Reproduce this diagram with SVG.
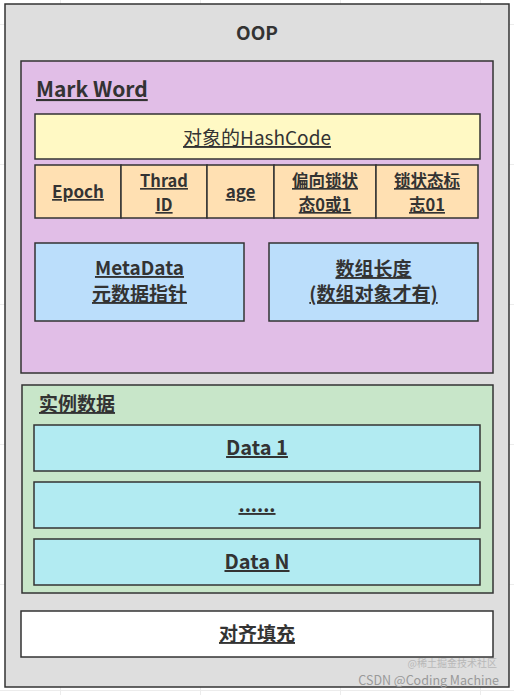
<svg xmlns="http://www.w3.org/2000/svg" width="514" height="695" viewBox="0 0 514 695">
<style>
  .box{stroke:#333;stroke-width:1.5}
  .t{font-family:"Microsoft YaHei","Noto Sans CJK SC","Noto Sans",sans-serif;fill:#333;text-anchor:middle;font-weight:bold}
  .u{text-decoration:underline}
  .b19{font-size:19px}
  .b20{font-size:20px}
  .b17{font-size:17px}
  .b16{font-size:16.5px}
  .grid{stroke:#ececec;stroke-width:1}
</style>
<rect width="514" height="695" fill="#fff"/>
<g id="grid">
  <path class="grid" d="M0 690.5H514M0 24.5H5M509 24.5H514M0 164.5H5M509 164.5H514M0 304.5H5M509 304.5H514M0 444.5H5M509 444.5H514M0 584.5H5M509 584.5H514M60.5 0V4M200.5 0V4M340.5 0V4M480.5 0V4M60.5 687V695M200.5 687V695M340.5 687V695M480.5 687V695"/>
</g>
<g id="oop">
  <rect class="box" x="5" y="4" width="504" height="683" fill="#dedede"/>
  <text class="t b19" x="257" y="40">OOP</text>
</g>
<g id="markword">
  <rect class="box" x="21" y="61" width="472" height="312" fill="#e1bee7"/>
  <text class="t u" x="36" y="97" style="text-anchor:start;font-size:21px">Mark Word</text>
</g>
<g id="hashcode">
  <rect class="box" x="35" y="114" width="445" height="45" fill="#fff9c4"/>
  <text class="t u" x="257" y="145" style="font-size:19px;font-weight:normal">对象的HashCode</text>
</g>
<g id="epoch">
  <rect class="box" x="35" y="165" width="86" height="53" fill="#ffe0b2"/>
  <text class="t b17 u" x="78" y="198">Epoch</text>
</g>
<g id="threadid">
  <rect class="box" x="121" y="165" width="86" height="53" fill="#ffe0b2"/>
  <text class="t b16 u" x="164" y="187">Thrad</text>
  <text class="t b16 u" x="164" y="211">ID</text>
</g>
<g id="age">
  <rect class="box" x="207" y="165" width="67" height="53" fill="#ffe0b2"/>
  <text class="t b17 u" x="240.5" y="198">age</text>
</g>
<g id="biased">
  <rect class="box" x="274" y="165" width="102" height="53" fill="#ffe0b2"/>
  <text class="t b16 u" x="325" y="187">偏向锁状</text>
  <text class="t b16 u" x="325" y="211">态0或1</text>
</g>
<g id="lockflag">
  <rect class="box" x="376" y="165" width="102" height="53" fill="#ffe0b2"/>
  <text class="t b16 u" x="427" y="187">锁状态标</text>
  <text class="t b16 u" x="427" y="211">志01</text>
</g>
<g id="metadata">
  <rect class="box" x="35" y="243" width="209" height="78" fill="#bbdefb"/>
  <text class="t b19 u" x="139.5" y="275">MetaData</text>
  <text class="t b19 u" x="139.5" y="301">元数据指针</text>
</g>
<g id="arraylength">
  <rect class="box" x="269" y="243" width="209" height="78" fill="#bbdefb"/>
  <text class="t b19 u" x="373.5" y="276">数组长度</text>
  <text class="t b19 u" x="373.5" y="301">(数组对象才有)</text>
</g>
<g id="instancedata">
  <rect class="box" x="22" y="385" width="471" height="208" fill="#c8e6c9"/>
  <text class="t b19 u" x="39" y="411" style="text-anchor:start">实例数据</text>
</g>
<g id="data1">
  <rect class="box" x="34" y="425" width="446" height="46" fill="#b2ebf2"/>
  <text class="t b20 u" x="257" y="455">Data 1</text>
</g>
<g id="dots">
  <rect class="box" x="34" y="482" width="446" height="46" fill="#b2ebf2"/>
  <text class="t b19 u" x="257" y="512">......</text>
</g>
<g id="dataN">
  <rect class="box" x="34" y="539" width="446" height="46" fill="#b2ebf2"/>
  <text class="t b20 u" x="257" y="569">Data N</text>
</g>
<g id="padding">
  <rect class="box" x="21" y="611" width="472" height="46" fill="#fff"/>
  <text class="t b19 u" x="257" y="641">对齐填充</text>
</g>
<g id="connectors"/>
<g id="watermark" style="font-family:'Noto Sans CJK SC','Noto Sans',sans-serif;text-anchor:end">
  <text x="497" y="667" style="font-size:10px;fill:#b8b8b8">@稀土掘金技术社区</text>
  <text x="499" y="685" style="font-size:12.5px;fill:#999">CSDN @Coding Machine</text>
</g>
</svg>
